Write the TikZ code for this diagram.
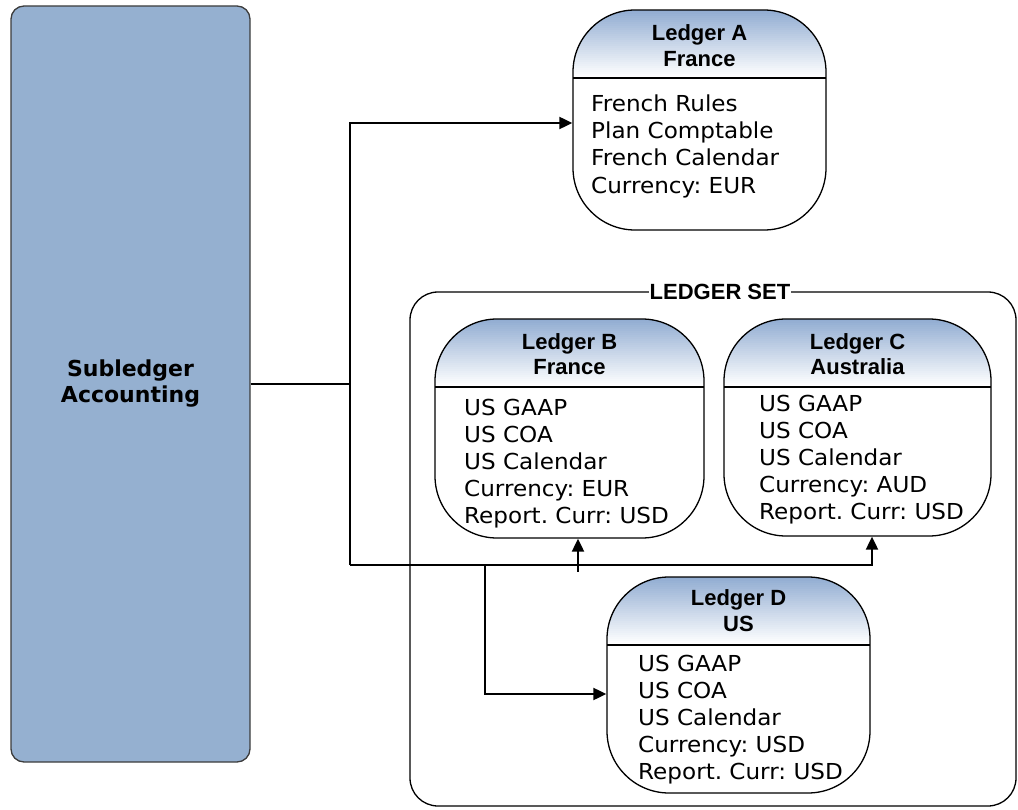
\documentclass[tikz,border=0pt]{standalone}
\usepackage{fontspec}
\newfontfamily\bodyf{DejaVu Sans}[FakeStretch=1.05]
\newfontfamily\subf{DejaVu Sans}
\newfontfamily\titlef{Liberation Sans}
\usetikzlibrary{arrows.meta}
\definecolor{subfill}{RGB}{149,176,208}
\definecolor{hdrtop}{RGB}{146,173,210}
\definecolor{subedge}{RGB}{60,60,60}
\frenchspacing
\begin{document}
\begin{tikzpicture}[x=1pt,y=-1pt,
  ledger/.style={draw=black, line width=1.3pt, rounded corners=62pt, fill=white, inner sep=0pt,
    path picture={
      \foreach \i in {0,...,33}{
        \pgfmathsetmacro\pc{100*\i/33}
        \pgfmathsetmacro\ya{-2*\i}
        \pgfmathsetmacro\yb{-2*\i-2.4}
        \fill[sharp corners, white!\pc!hdrtop]
          ([yshift=\ya pt]path picture bounding box.north west) rectangle ([yshift=\yb pt]path picture bounding box.north east);
      }
      \draw[sharp corners, line width=1.3pt] ([yshift=-68pt]path picture bounding box.north west) -- ([yshift=-68pt]path picture bounding box.north east);}},
  ttl/.style={font=\titlef\bfseries\fontsize{22}{25.5}\selectfont, align=center, inner sep=0pt},
  bodytxt/.style={font=\bodyf\fontsize{22}{27.2}\selectfont, align=left, inner sep=0pt, anchor=north west},
  conn/.style={draw=black, line width=2pt},
  arr/.style={conn, -{Triangle[length=13pt,width=12pt]}}
]
\useasboundingbox (0,0) rectangle (1018,810);

% Subledger
\node[draw=subedge, fill=subfill, rounded corners=13pt, line width=1.3pt,
      minimum width=239pt, minimum height=756pt, align=center,
      font=\subf\bfseries\fontsize{22}{26}\selectfont] (sub) at (130.5,384) {Subledger\\Accounting};

% Ledger set
\node[draw=black, line width=1.3pt, rounded corners=28pt, minimum width=606pt, minimum height=514pt] (set) at (713,549) {};
\node[font=\titlef\bfseries\fontsize{22}{25}\selectfont, fill=white, inner xsep=1pt, inner ysep=1pt] (setl) at (720,292) {LEDGER SET};

% Ledger A
\node[ledger, minimum width=253pt, minimum height=220pt] (ledA) at (699.5,120) {};
\node[ttl] (ledAt) at (699.5,45.5) {Ledger A\\France};
\node[bodytxt] (ledAb) at (591,94.5) {French Rules\\Plan Comptable\\French Calendar\\Currency: EUR};

% Ledger B
\node[ledger, minimum width=269pt, minimum height=219pt] (ledB) at (569.5,428.5) {};
\node[ttl] (ledBt) at (569.5,354) {Ledger B\\France};
\node[bodytxt] (ledBb) at (464,398.5) {US GAAP\\US COA\\US Calendar\\Currency: EUR\\Report. Curr: USD};

% Ledger C
\node[ledger, minimum width=267pt, minimum height=217pt] (ledC) at (857.5,427.5) {};
\node[ttl] (ledCt) at (857.5,354) {Ledger C\\Australia};
\node[bodytxt] (ledCb) at (759,394.5) {US GAAP\\US COA\\US Calendar\\Currency: AUD\\Report. Curr: USD};

% Ledger D
\node[ledger, minimum width=263pt, minimum height=216pt] (ledD) at (738.5,685) {};
\node[ttl] (ledDt) at (738.5,610.5) {Ledger D\\US};
\node[bodytxt] (ledDb) at (638,654.5) {US GAAP\\US COA\\US Calendar\\Currency: USD\\Report. Curr: USD};

% Connectors
\coordinate (ta) at (350,123);
\coordinate (tb) at (350,565);
\coordinate (td) at (485,565);
\coordinate (cC) at ([xshift=14.5pt]ledC.south);
\coordinate (bB) at ([xshift=8.5pt]ledB.south);
\coordinate (bB0) at ([yshift=-33pt]bB);
\coordinate (dD) at ([yshift=-9pt]ledD.west);

\draw[conn] (sub.east) -- (sub.east -| ta);
\draw[arr] (tb) -- (ta) -- (ta -| ledA.west);
\draw[arr] (tb) -- (tb -| cC) -- (cC);
\draw[arr] (bB0) -- (bB);
\draw[arr] (td) -- (td |- dD) -- (dD);
\end{tikzpicture}
\end{document}
